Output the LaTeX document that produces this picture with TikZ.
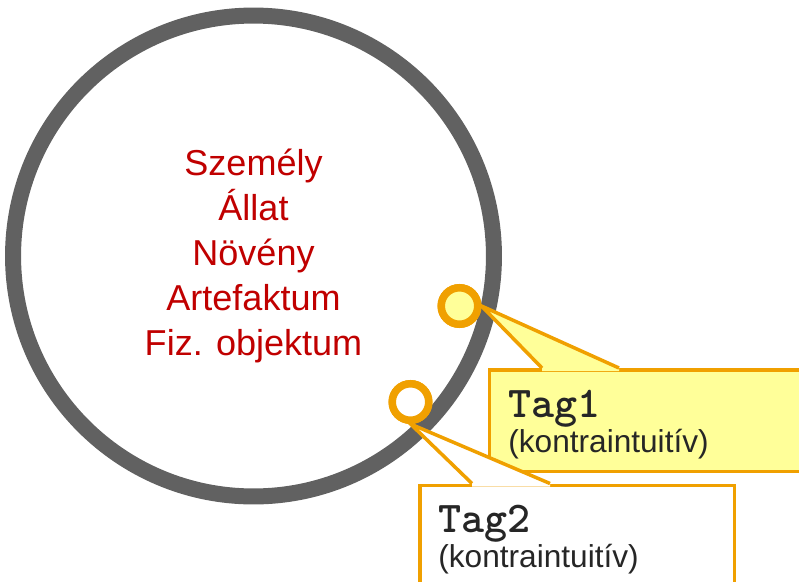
\documentclass[tikz,border=0pt]{standalone}
\usepackage{fontspec}
\setmainfont{Liberation Sans}
\definecolor{ringgray}{HTML}{616161}
\definecolor{kindred}{HTML}{C00000}
\definecolor{tagorange}{HTML}{F0A000}
\definecolor{tagyellow}{HTML}{FFFF99}
\tikzset{
  tagdot/.style={circle, draw=tagorange, line width=0.15cm, minimum size=0.73cm, inner sep=0pt},
  tagbox/.style={rectangle, draw=tagorange, line width=0.07cm, anchor=north west, inner sep=0pt},
  tagline/.style={draw=tagorange, line width=0.07cm},
  tagname/.style={anchor=base west, inner sep=0pt, font=\ttfamily\bfseries\fontsize{25}{29}\selectfont, text=black!85},
  tagnote/.style={anchor=base west, inner sep=0pt, font=\fontsize{18}{22}\selectfont, text=black!85}
}
\begin{document}
\begin{tikzpicture}[x=0.02cm, y=-0.02cm]
\useasboundingbox (0,0) rectangle (799,582);
% the big ring with its kinds
\node[circle, draw=ringgray, line width=0.32cm, minimum size=9.62cm, align=center, text=kindred, font=\fontsize{20.5}{25.6}\selectfont] (kind) at (253.5,256) {Személy\\Állat\\Növény\\Artefaktum\\Fiz. objektum};
\node[tagdot, fill=tagyellow] (tagAdot) at (459.5,306) {};
\node[tagdot, fill=white] (tagBdot) at (410.5,402) {};
% Tag1 callout
\node[tagbox, fill=tagyellow, minimum width=6.9cm, minimum height=2.04cm] (tagAbox) at (487.5,368) {};
\coordinate (tagAbaseL) at (542,368);
\coordinate (tagAbaseR) at (619,368);
\fill[tagyellow] (tagAbaseL) -- (tagAdot.east) -- (tagAbaseR) -- ++(0,3) -| (tagAbaseL);
\draw[tagline] (tagAbaseL) -- (tagAdot.east) -- (tagAbaseR);
\node[tagname] (tagAname) at (508,417) {Tag1};
\node[tagnote] (tagAnote) at (508,452) {(kontraintuitív)};
% Tag2 callout
\node[tagbox, fill=white, minimum width=6.3cm, minimum height=2.6cm] (tagBbox) at (418,483.5) {};
\coordinate (tagBbaseL) at (472,483.5);
\coordinate (tagBbaseR) at (550,483.5);
\fill[white] (tagBbaseL) -- (tagBdot.south) -- (tagBbaseR) -- ++(0,3) -| (tagBbaseL);
\draw[tagline] (tagBbaseL) -- (tagBdot.south) -- (tagBbaseR);
\node[tagname] (tagBname) at (438,532) {Tag2};
\node[tagnote] (tagBnote) at (438,567) {(kontraintuitív)};
% dots on top
\node[tagdot, fill=tagyellow] at (tagAdot) {};
\node[tagdot, fill=white] at (tagBdot) {};
\end{tikzpicture}
\end{document}
